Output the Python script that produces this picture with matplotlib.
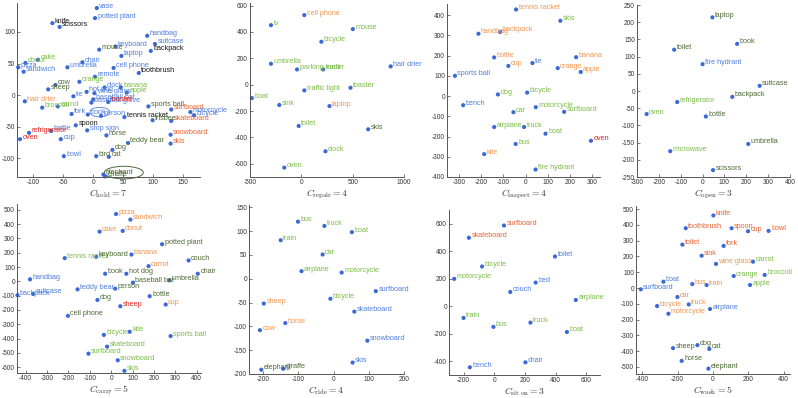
import matplotlib
matplotlib.use('Agg')
import matplotlib.pyplot as plt
from matplotlib.patches import Ellipse

plt.rcParams['font.family'] = ['Liberation Sans', 'DejaVu Sans']
plt.rcParams['mathtext.fontset'] = 'cm'
plt.rcParams['axes.unicode_minus'] = False

B = '#4f7fdf'
G = '#7cbd48'
DG = '#4e6b36'
K = '#151515'
O = '#f2954f'
RO = '#ec6232'
R = '#e0251f'
DOT = '#3b6ad6'

# ---- C_hold = 7
hold_names = ['vase', 'potted plant', 'knife', 'scissors', 'handbag', 'suitcase', 'backpack',
              'mouse', 'keyboard', 'laptop', 'cake', 'donut', 'pizza', 'sandwich', 'umbrella',
              'chair', 'cell phone', 'toothbrush', 'remote', 'orange', 'cow', 'sheep', 'clock',
              'banana', 'hot dog', 'apple', 'wine glass', 'tie', 'hair drier', 'broccoli',
              'carrot', 'baseball glove', 'baseball bat', 'toaster', 'fork', 'book', 'person',
              'tennis racket', 'sports ball', 'frisbee', 'surfboard', 'skateboard', 'motorcycle',
              'bicycle', 'snowboard', 'skis', 'spoon', 'bottle', 'refrigerator', 'oven', 'cup',
              'stop sign', 'horse', 'teddy bear', 'dog', 'bird', 'cat', 'bowl', 'giraffe', 'elephant']
hold_x = [6, 3, -68, -56, 90, 103, 96, 10, 37, 47, -92, -113, -125, -116, -43, -18, 34, 76, 3,
          -23, -63, -75, 19, 46, -11, 56, 2, -33, -114, -85, -59, -3, 0, 25, -36, -9, 13, 52,
          92, 99, 130, 130, 162, 168, 129, 129, -29, -70, -107, -122, -54, -10, 22, 58, 32, 5,
          26, -49, 20, 17]
hold_y = [138, 122, 114, 108, 94, 81, 70, 72, 77, 62, 56, 51, 44, 37, 44, 52, 43, 35, 29, 21,
          16, 9, 12, 12, 5, 4, 3, -2, -10, -20, -18, -12, -7, -11, -30, -31, -33, -35, -18, -40,
          -23, -41, -27, -32, -63, -77, -48, -57, -60, -70, -70, -56, -64, -76, -87, -97, -98,
          -97, -129, -126]
hold_col = [B, B, K, K, B, B, K, DG, B, B, G, G, B, B, B, B, B, K, B, G, DG, DG, B, G, B, G, B,
            B, O, G, G, B, B, R, B, B, B, K, DG, DG, RO, RO, B, B, RO, RO, K, B, R, R, B, B, DG,
            DG, DG, DG, DG, B, DG, DG]

# ---- C_repair = 4
repair_names = ['cell phone', 'tv', 'mouse', 'bicycle', 'umbrella', 'parking meter', 'truck',
                'hair drier', 'toaster', 'traffic light', 'boat', 'sink', 'laptop', 'toilet',
                'skis', 'clock', 'oven']
repair_x = [29, -296, 502, 195, -296, -42, 212, 870, 479, 29, -482, -215, 274, -26, 651, 235, -166]
repair_y = [528, 452, 422, 326, 159, 116, 116, 139, -23, -43, -101, -154, -162, -313, -338, -505, -629]
repair_col = [O, G, G, G, G, G, G, B, G, G, G, G, O, G, DG, G, G]

# ---- C_inspect = 4
inspect_names = ['tennis racket', 'skis', 'handbag', 'backpack', 'bottle', 'banana', 'tie', 'cup',
                 'orange', 'apple', 'sports ball', 'dog', 'bicycle', 'bench', 'motorcycle', 'car',
                 'surfboard', 'airplane', 'truck', 'boat', 'oven', 'bus', 'kite', 'fire hydrant']
inspect_x = [-43, 157, -213, -115, -142, 228, 31, -78, 145, 249, -319, -125, 7, -282, 46, -55,
             174, -142, -7, 90, 295, -45, -187, 45]
inspect_y = [428, 372, 308, 317, 191, 192, 163, 149, 138, 119, 100, 8, 17, -45, -55, -80, -78,
             -153, -153, -186, -221, -237, -287, -363]
inspect_col = [O, G, O, O, O, O, B, O, O, O, B, G, G, B, G, G, G, G, G, G, R, G, O, G]

# ---- C_open = 3
open_names = ['laptop', 'book', 'toilet', 'fire hydrant', 'suitcase', 'backpack', 'refrigerator',
              'oven', 'bottle', 'umbrella', 'microwave', 'scissors']
open_x = [45, 158, -130, 0, 261, 136, -116, -256, 15, 209, -148, 48]
open_y = [214, 137, 120, 78, 15, -17, -32, -67, -74, -154, -175, -230]
open_col = [DG, DG, DG, B, DG, DG, G, G, DG, DG, G, DG]

# ---- C_carry = 5
carry_names = ['pizza', 'sandwich', 'cake', 'donut', 'potted plant', 'tennis racket', 'keyboard',
               'banana', 'couch', 'chair', 'carrot', 'book', 'hot dog', 'umbrella', 'baseball bat',
               'handbag', 'teddy bear', 'person', 'backpack', 'suitcase', 'dog', 'bottle', 'sheep',
               'cup', 'cell phone', 'kite', 'bicycle', 'sports ball', 'skateboard', 'surfboard',
               'snowboard', 'skis']
carry_x = [23, 90, -54, 54, 238, -217, -70, 95, 362, 405, 175, -28, 71, 272, 102, -379, -157, 19,
           -438, -365, -64, 180, 43, 255, -202, 87, -34, 278, -19, -106, 31, 62]
carry_y = [470, 431, 347, 352, 259, 162, 171, 187, 146, 53, 106, 53, 53, 7, -9, 14, -56, -51, -97,
           -88, -130, -104, -174, -162, -241, -352, -374, -382, -456, -505, -551, -625]
carry_col = [O, O, O, O, DG, G, DG, O, DG, DG, O, DG, DG, DG, DG, B, B, DG, B, B, DG, DG, R, O,
             DG, G, G, G, G, G, G, G]

# ---- C_ride = 4
ride_names = ['bus', 'truck', 'boat', 'train', 'car', 'airplane', 'motorcycle', 'surfboard',
              'bicycle', 'sheep', 'skateboard', 'horse', 'cow', 'snowboard', 'skis', 'elephant',
              'giraffe']
ride_x = [-101, -26, 52, -150, -31, -91, 23, 120, -9, -198, 59, -137, -209, 96, 54, -205, -143]
ride_y = [120, 111, 98, 81, 51, 16, 13, -26, -42, -52, -69, -93, -108, -130, -176, -191, -189]
ride_col = [G, G, G, G, G, G, G, B, G, O, B, O, O, B, B, DG, DG]

# ---- C_sit on = 3
siton_names = ['surfboard', 'skateboard', 'toilet', 'bicycle', 'motorcycle', 'bed', 'couch',
               'airplane', 'train', 'bus', 'truck', 'boat', 'chair', 'bench']
siton_x = [63, -166, 396, -80, -262, 270, 104, 532, -201, -6, 236, 474, 203, -160]
siton_y = [587, 498, 362, 289, 199, 172, 104, 46, -85, -150, -119, -187, -408, -444]
siton_col = [RO, RO, B, G, G, B, B, G, G, G, G, G, B, B]

# ---- C_wash = 5
wash_names = ['knife', 'toothbrush', 'spoon', 'cup', 'bowl', 'toilet', 'fork', 'sink', 'wine glass',
              'carrot', 'orange', 'broccoli', 'boat', 'bus', 'train', 'apple', 'surfboard', 'car',
              'truck', 'bicycle', 'airplane', 'motorcycle', 'sheep', 'dog', 'cat', 'horse',
              'elephant']
wash_x = [2, -154, 105, 198, 314, -173, 60, -64, 17, 226, 117, 292, -280, -117, -36, 209, -408,
          -201, -137, -316, -17, -252, -226, -88, -21, -177, -26]
wash_y = [460, 379, 379, 360, 362, 275, 267, 205, 153, 167, 76, 83, 40, 25, 19, 19, -8, -57, -104,
          -114, -133, -163, -381, -362, -386, -462, -511]
wash_col = [RO, RO, RO, RO, RO, RO, RO, RO, O, G, G, G, B, O, O, G, B, O, O, O, B, O, DG, DG, DG,
            DG, DG]

panels = [
    # label, names, x, y, colours, (left, top, right, bottom) px, xlim, ylim, xticks, yticks
    (r'$C_{\rm hold} = 7$', hold_names, hold_x, hold_y, hold_col, (17, 3, 200, 177),
     (-127, 178), (-130, 146), range(-100, 151, 50), range(-100, 101, 50)),
    (r'$C_{\rm repair} = 4$', repair_names, repair_x, repair_y, repair_col, (250, 3, 404, 177),
     (-500, 1000), (-700, 620), range(-500, 1001, 500), range(-600, 601, 200)),
    (r'$C_{\rm inspect} = 4$', inspect_names, inspect_x, inspect_y, inspect_col, (447, 4, 600, 177),
     (-355, 336), (-400, 455), range(-300, 301, 100), range(-400, 401, 100)),
    (r'$C_{\rm open} = 3$', open_names, open_x, open_y, open_col, (637, 5, 790, 177),
     (-300, 400), (-250, 250), range(-300, 401, 100), range(-250, 251, 50)),
    (r'$C_{\rm carry} = 5$', carry_names, carry_x, carry_y, carry_col, (17, 204, 201, 373),
     (-440, 420), (-640, 540), range(-400, 401, 100), range(-600, 501, 100)),
    (r'$C_{\rm ride} = 4$', ride_names, ride_x, ride_y, ride_col, (249, 205, 404, 374),
     (-240, 200), (-200, 155), range(-200, 201, 100), range(-200, 151, 50)),
    (r'$C_{\rm sit\ on} = 3$', siton_names, siton_x, siton_y, siton_col, (449, 210, 600, 375),
     (-296, 690), (-500, 700), range(-200, 601, 200), range(-400, 601, 200)),
    (r'$C_{\rm wash} = 5$', wash_names, wash_x, wash_y, wash_col, (636, 206, 790, 374),
     (-435, 435), (-545, 520), range(-400, 401, 200), range(-500, 501, 100)),
]

W, H = 798, 398
fig = plt.figure(figsize=(W / 100, H / 100), dpi=100)

axes = []
for label, names, xs, ys, cols, (l, t, r, b), xl, yl, xt, yt in panels:
    ax = fig.add_axes([l / W, 1 - b / H, (r - l) / W, (b - t) / H])
    ax.scatter(xs, ys, s=9, color=DOT, edgecolors='none', clip_on=False, zorder=2)
    for n, x, y, c in zip(names, xs, ys, cols):
        ax.annotate(n, (x, y), xytext=(2.5, 2), textcoords='offset pixels',
                    ha='left', va='center', fontsize=5.2, color=c,
                    annotation_clip=False, zorder=3)
    ax.set_xlim(*xl)
    ax.set_ylim(*yl)
    ax.set_xticks(list(xt))
    ax.set_yticks(list(yt))
    for s in ['top', 'right']:
        ax.spines[s].set_visible(False)
    for s in ['left', 'bottom']:
        ax.spines[s].set_color('#555555')
        ax.spines[s].set_linewidth(0.7)
    ax.tick_params(direction='in', length=2, width=0.5, labelsize=4.7,
                   colors='#444444', labelcolor='#333333', pad=1.5)
    ax.patch.set_alpha(0)
    ax.annotate(label, (0.5, 0), xycoords='axes fraction', xytext=(0, -19.5),
                textcoords='offset pixels', ha='center', va='baseline',
                fontsize=7, color='#333333', annotation_clip=False)
    axes.append(ax)

# highlighted labels in the first panel
axes[0].add_patch(Ellipse((11, -27), 33, 15, fill=False, edgecolor=B, lw=0.6, clip_on=False))
axes[0].add_patch(Ellipse((51, -123), 65, 20, fill=False, edgecolor=DG, lw=0.7, clip_on=False))

fig.savefig('out.png', dpi=100)
